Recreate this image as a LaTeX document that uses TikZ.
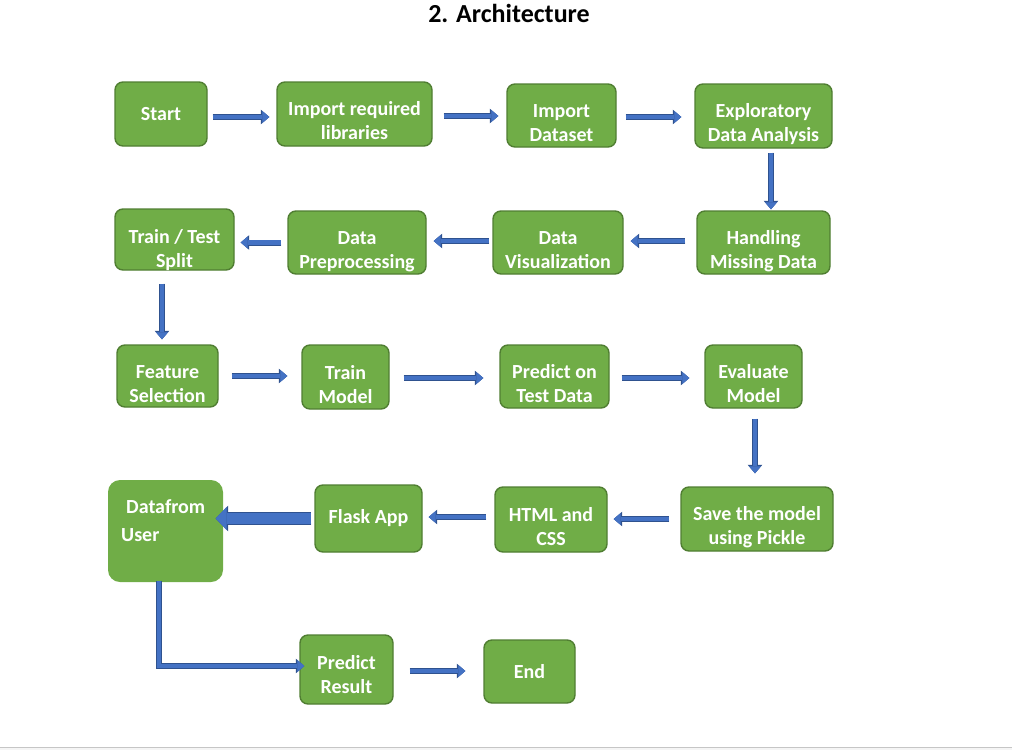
\documentclass[tikz,border=0pt]{standalone}
\usepackage{fontspec}
\setmainfont{Carlito}
\usetikzlibrary{arrows.meta, calc}
\definecolor{boxgreen}{HTML}{70AD47}
\definecolor{boxline}{HTML}{507E32}
\definecolor{arrowblue}{HTML}{4472C4}
\definecolor{arrowline}{HTML}{2F528F}
% two centred lines, set a little lower in the box
\newcommand\boxlines[3][6pt]{\raisebox{0pt}[\dimexpr 40.8pt+#1*2\relax][0pt]{\begin{tabular}[b]{@{}c@{}}#2\\#3\end{tabular}}}

\begin{document}
\begin{tikzpicture}[x=1pt, y=-1pt,
  stepbox/.style={draw=boxline, line width=1.4pt, fill=boxgreen, rounded corners=8pt,
    text=white, font=\fontsize{20}{24}\selectfont\bfseries, align=center, inner sep=0pt},
  flow/.style={arrowblue, line width=4.4pt,
    -{Triangle[width=12pt, length=7pt, line width=0.5pt]},
    preaction={draw=arrowline, line width=6pt,
      -{Triangle[width=14.5pt, length=8.5pt, line width=0.5pt]}}},
  bigflow/.style={arrowblue, line width=11pt,
    -{Triangle[width=23pt, length=11pt, line width=0.5pt]},
    preaction={draw=arrowline, line width=12.6pt,
      -{Triangle[width=25.5pt, length=12.5pt, line width=0.5pt]}}},
  ]
\useasboundingbox (0, 0) rectangle (1012, 750);
\draw[gray!45, line width=1.2pt] (0, 747.5) -- (1012, 747.5);
\fill[gray!8] (0, 748.1) rectangle (1012, 750);

\node[font=\fontsize{26}{31}\selectfont\bfseries, anchor=base] (title) at (509, 22) {2. Architecture};

% row 1
\node[stepbox, minimum width=92, minimum height=64] (start) at (161, 114) {Start};
\node[stepbox, minimum width=155, minimum height=64] (implib) at (354.5, 114) {\boxlines[5pt]{Import required}{libraries}};
\node[stepbox, minimum width=109, minimum height=63] (impdata) at (561.5, 115.5) {\boxlines[5.5pt]{Import}{Dataset}};
\node[stepbox, minimum width=137, minimum height=64] (eda) at (763.5, 116) {\boxlines[5pt]{Exploratory}{Data Analysis}};

% row 2
\node[stepbox, minimum width=133, minimum height=63] (missing) at (763.5, 242.5) {\boxlines[5.5pt]{Handling}{Missing Data}};
\node[stepbox, minimum width=130, minimum height=63] (visual) at (558, 242.5) {\boxlines{Data}{Visualization}};
\node[stepbox, minimum width=138, minimum height=63] (preproc) at (357, 242.5) {\boxlines{Data}{Preprocessing}};
\node[stepbox, minimum width=119, minimum height=61] (split) at (174.5, 239.5) {\boxlines[7.5pt]{Train / Test}{Split}};

% row 3
\node[stepbox, minimum width=101, minimum height=62] (feature) at (167.5, 376) {\boxlines{Feature}{Selection}};
\node[stepbox, minimum width=87, minimum height=64] (train) at (345.5, 377) {\boxlines{Train}{Model}};
\node[stepbox, minimum width=109, minimum height=63] (predict) at (554.5, 376.5) {\boxlines{Predict on}{Test Data}};
\node[stepbox, minimum width=97, minimum height=63] (evaluate) at (753.5, 376.5) {\boxlines{Evaluate}{Model}};

% row 4
\node[stepbox, minimum width=152, minimum height=64] (save) at (757, 519) {\boxlines[5.5pt]{Save the model}{using Pickle}};
\node[stepbox, minimum width=112, minimum height=65] (html) at (551, 519.5) {\boxlines[5.5pt]{HTML and}{CSS}};
\node[stepbox, minimum width=107, minimum height=67] (flask) at (368.5, 518.5) {Flask App};
\node[stepbox, draw=none, rounded corners=12pt, minimum width=115, minimum height=102] (user) at (165.5, 531) {};
\node[text=white, font=\fontsize{20}{28}\selectfont\bfseries, align=left, inner sep=0pt, anchor=north west]
  (usertext) at (121, 499) {\hspace*{5pt}Datafrom\\User};

% row 5
\node[stepbox, minimum width=93, minimum height=69] (result) at (346.5, 669.5) {\boxlines[3.5pt]{Predict}{Result}};
\node[stepbox, minimum width=91, minimum height=63] (endnode) at (529.5, 671.5) {End};

% arrows
\draw[flow, shorten <=5pt, shorten >=7pt] ([yshift=-3]start.east) -- ([yshift=-3]start.east -| implib.west);
\draw[flow, shorten <=11pt, shorten >=8pt] ([yshift=-2]implib.east) -- ([yshift=-2]implib.east -| impdata.west);
\draw[flow, shorten <=9pt, shorten >=13pt] ([yshift=-1.5]impdata.east) -- ([yshift=-1.5]impdata.east -| eda.west);
\draw[flow, shorten <=4pt, shorten >=1pt] ([xshift=7.5]eda.south) -- ([xshift=7.5]eda.south |- missing.north);
\draw[flow, shorten <=11pt, shorten >=7pt] ([yshift=1.5]missing.west) -- ([yshift=1.5]missing.west -| visual.east);
\draw[flow, shorten <=3pt, shorten >=7pt] ([yshift=1.5]visual.west) -- ([yshift=1.5]visual.west -| preproc.east);
\draw[flow, shorten <=6pt, shorten >=6pt] (preproc.west) -- (preproc.west -| split.east);
\draw[flow, shorten <=13pt, shorten >=5pt] ([xshift=-12.5]split.south) -- ([xshift=-12.5]split.south |- feature.north);
\draw[flow, shorten <=13pt, shorten >=14pt] (feature.east) -- (feature.east -| train.west);
\draw[flow, shorten <=14pt, shorten >=16pt] ([yshift=-1]train.east) -- ([yshift=-1]train.east -| predict.west);
\draw[flow, shorten <=12pt, shorten >=15pt] ([yshift=-1.5]predict.east) -- ([yshift=-1.5]predict.east -| evaluate.west);
\draw[flow, shorten <=10pt, shorten >=13pt] ([xshift=1.5]evaluate.south) -- ([xshift=1.5]evaluate.south |- save.north);
\draw[flow, shorten <=11pt, shorten >=6pt] (save.west) -- (save.west -| html.east);
\draw[flow, shorten <=8pt, shorten >=6pt] ([yshift=2.5]html.west) -- ([yshift=2.5]html.west -| flask.east);
\draw[bigflow, shorten <=3pt, shorten >=-8pt] (flask.west) -- (flask.west -| user.east);
\draw[flow, shorten <=-2pt, shorten >=-5pt] ([xshift=-6.5]user.south) |- ([yshift=3.5]result.west);
\draw[flow, shorten <=16pt, shorten >=18pt] ([yshift=-1.5]result.east) -- ([yshift=-1.5]result.east -| endnode.west);
\end{tikzpicture}
\end{document}
